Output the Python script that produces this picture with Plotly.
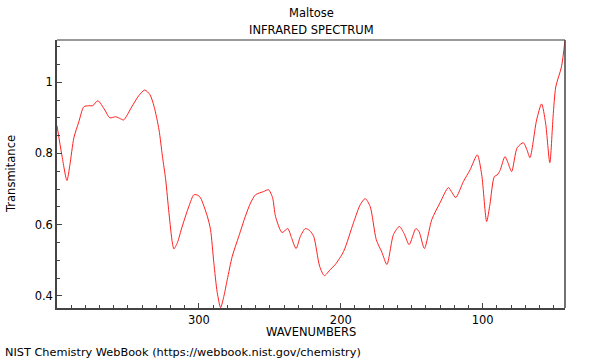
import plotly.graph_objects as go

wavenumber = [400.0, 396.6, 393.0, 390.9, 388.1, 384.6, 381.1, 377.6, 374.8, 371.2,
              366.3, 362.8, 358.6, 355.1, 353.0, 347.3, 342.4, 338.2, 334.5, 331.6,
              328.1, 325.7, 323.4, 321.1, 318.7, 317.6, 315.2, 311.7, 307.0, 303.5,
              300.5, 298.8, 294.1, 291.8, 289.5, 287.1, 284.7, 282.4, 280.0, 276.5,
              271.9, 267.2, 263.6, 260.1, 254.4,
              250.9, 248.1, 246.0, 241.4, 237.4, 234.8, 231.5, 228.5, 225.0, 222.1,
              219.1, 214.9, 211.6, 207.4, 203.9, 198.0, 191.0, 186.3, 182.8, 179.3,
              175.0, 171.0, 167.5, 162.9, 158.7, 155.4, 151.8, 147.1, 144.8, 141.1,
              135.9, 130.0, 124.2, 121.6, 119.0, 113.6, 108.9, 103.8, 100.7, 97.2,
              94.9, 91.8, 89.7, 87.8, 84.3, 82.2, 79.6, 75.7, 71.4, 68.8,
              66.7, 62.0, 58.5, 55.7, 52.7, 50.4, 48.5, 44.5, 42.0]
transmittance = [0.878, 0.796, 0.724, 0.768, 0.844, 0.889, 0.931, 0.934, 0.934, 0.948,
                 0.922, 0.900, 0.903, 0.897, 0.894, 0.931, 0.962, 0.978, 0.965, 0.932,
                 0.866, 0.792, 0.726, 0.633, 0.549, 0.532, 0.549, 0.596, 0.652, 0.684,
                 0.682, 0.675, 0.624, 0.586, 0.494, 0.410, 0.367, 0.399, 0.446, 0.511,
                 0.567, 0.624, 0.661, 0.684, 0.693,
                 0.698, 0.676, 0.623, 0.578, 0.589, 0.564, 0.533, 0.567, 0.589, 0.584,
                 0.567, 0.483, 0.457, 0.474, 0.488, 0.525, 0.606, 0.656, 0.673, 0.651,
                 0.558, 0.522, 0.488, 0.572, 0.595, 0.575, 0.544, 0.589, 0.580, 0.533,
                 0.614, 0.662, 0.704, 0.690, 0.676, 0.721, 0.754, 0.796, 0.740, 0.609,
                 0.657, 0.735, 0.740, 0.752, 0.791, 0.774, 0.749, 0.816, 0.830, 0.810,
                 0.788, 0.894, 0.939, 0.886, 0.774, 0.903, 0.987, 1.043, 1.118]

x_tick_vals = [300, 200, 100]
y_tick_vals = [0.4, 0.6, 0.8, 1.0]
y_tick_text = ["0.4", "0.6", "0.8", "1"]

FONT = "DejaVu Sans"

fig = go.Figure()
fig.add_trace(go.Scatter(x=wavenumber, y=transmittance, mode="lines",
                         line=dict(color="#ff2020", width=1, shape="spline", smoothing=0.7),
                         hoverinfo="x+y", showlegend=False))

fig.update_layout(
    width=600, height=360,
    margin=dict(l=57, r=35, t=40, b=52),
    paper_bgcolor="white", plot_bgcolor="white",
    font=dict(family=FONT, size=11.5, color="black"),
    xaxis=dict(range=[400, 42], tickvals=x_tick_vals, ticks="inside", ticklen=5,
               tickcolor="#444", showline=True, linecolor="#444", linewidth=1.5,
               showgrid=False, zeroline=False,
               minor=dict(dtick=10, tick0=0, ticks="inside", ticklen=3, tickcolor="#444")),
    yaxis=dict(range=[0.366, 1.1185], tickvals=y_tick_vals, ticktext=y_tick_text,
               ticks="inside", ticklen=5, tickcolor="#444", showline=True,
               linecolor="#444", linewidth=1.5, showgrid=False, zeroline=False,
               minor=dict(dtick=0.05, tick0=0, ticks="inside", ticklen=3, tickcolor="#444")),
    shapes=[
        dict(type="line", xref="paper", yref="paper", x0=0, x1=1, y0=1, y1=1,
             line=dict(color="#999", width=2)),
        dict(type="line", xref="paper", yref="paper", x0=1, x1=1, y0=0, y1=1,
             line=dict(color="#444", width=1.5)),
    ],
    annotations=[
        dict(text="Maltose", xref="paper", yref="paper", x=0.5, y=1, yshift=27,
             showarrow=False, xanchor="center", yanchor="middle"),
        dict(text="INFRARED SPECTRUM", xref="paper", yref="paper", x=0.5, y=1, yshift=10,
             showarrow=False, xanchor="center", yanchor="middle"),
        dict(text="WAVENUMBERS", xref="paper", yref="paper", x=0.5, y=0, yshift=-24,
             showarrow=False, xanchor="center", yanchor="middle"),
        dict(text="Transmitance", xref="paper", yref="paper", x=0, xshift=-46, y=0.5,
             textangle=-90, showarrow=False, xanchor="center", yanchor="middle"),
        dict(text="NIST Chemistry WebBook (https://webbook.nist.gov/chemistry)",
             xref="paper", yref="paper", x=0, xshift=-54, y=0, yshift=-44,
             showarrow=False, xanchor="left", yanchor="middle", font=dict(size=11.3)),
    ],
)

fig.write_html("out.html", config={"displayModeBar": False},
               post_script="document.body.style.margin='0';")
